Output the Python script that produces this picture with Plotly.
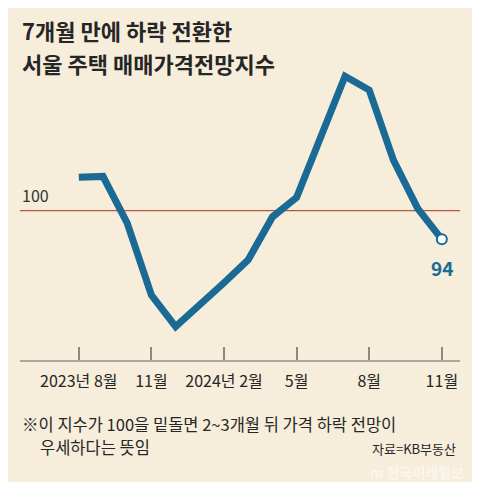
import plotly.graph_objects as go

# Seoul housing price outlook index, Aug 2023 - Nov 2024 (monthly)
months = ["2023-08", "2023-09", "2023-10", "2023-11", "2023-12", "2024-01",
          "2024-02", "2024-03", "2024-04", "2024-05", "2024-06", "2024-07",
          "2024-08", "2024-09", "2024-10", "2024-11"]
index_values = [107, 107.2, 97.4, 82.3, 75.7, 80.2, 84.9, 89.7, 98.7, 102.8,
                115.2, 128.2, 125.3, 110.6, 100.5, 94]
tick_pos = [0, 3, 6, 9, 12, 15]
tick_labels = ["2023년 8월", "11월", "2024년 2월", "5월", "8월", "11월"]

bg = "#F6EDDA"
blue = "#1B6A96"
font = "Noto Sans CJK KR"

x = list(range(len(months)))

fig = go.Figure()

fig.add_trace(go.Scatter(
    x=x, y=index_values,
    mode="lines",
    line=dict(color=blue, width=7),
    hoverinfo="skip"
))

# last point marker
fig.add_trace(go.Scatter(
    x=[x[-1]], y=[index_values[-1]],
    mode="markers",
    marker=dict(size=10, color="white", line=dict(color=blue, width=2)),
    hoverinfo="skip"
))

# reference line at 100
fig.add_shape(type="line", xref="paper", x0=0, x1=1, yref="y", y0=100, y1=100,
              line=dict(color="#B9583F", width=1.2), layer="below")
fig.add_annotation(xref="paper", x=0, y=100, yshift=2, text="100",
                   showarrow=False, xanchor="left", yanchor="bottom",
                   font=dict(size=16, color="#333333", family=font))

fig.add_annotation(x=x[-1], y=index_values[-1], yshift=-28, text="<b>94</b>",
                   showarrow=False, xanchor="center", yanchor="middle",
                   font=dict(size=19, color=blue, family=font))

# title
fig.add_annotation(xref="paper", yref="paper", x=0, y=1.0, yshift=30,
                   text="<b>7개월 만에 하락 전환한</b>",
                   showarrow=False, xanchor="left", yanchor="middle",
                   font=dict(size=22, color="#262626", family=font))
fig.add_annotation(xref="paper", yref="paper", x=0, y=1.0, yshift=-3,
                   text="<b>서울 주택 매매가격전망지수</b>",
                   showarrow=False, xanchor="left", yanchor="middle",
                   font=dict(size=22, color="#262626", family=font))

# footnote
fig.add_annotation(xref="paper", yref="paper", x=0, y=0, yshift=-64, xshift=0,
                   text="※이 지수가 100을 밑돌면 2~3개월 뒤 가격 하락 전망이",
                   showarrow=False, xanchor="left", yanchor="middle",
                   font=dict(size=16.5, color="#262626", family=font))
fig.add_annotation(xref="paper", yref="paper", x=0, y=0, yshift=-87, xshift=18,
                   text="우세하다는 뜻임",
                   showarrow=False, xanchor="left", yanchor="middle",
                   font=dict(size=16.5, color="#262626", family=font))
fig.add_annotation(xref="paper", yref="paper", x=1, y=0, yshift=-88, xshift=-2,
                   text="자료=KB부동산",
                   showarrow=False, xanchor="right", yanchor="middle",
                   font=dict(size=13, color="#262626", family=font))

# faint watermark
fig.add_annotation(xref="paper", yref="paper", x=1, y=0, yshift=-112, xshift=6,
                   text="<b>m 한국미래일보</b>",
                   showarrow=False, xanchor="right", yanchor="middle",
                   font=dict(size=14, color="rgba(255,255,255,0.55)", family=font))

fig.update_layout(
    width=480, height=482,
    margin=dict(l=12, r=28, t=52, b=130),
    paper_bgcolor=bg, plot_bgcolor=bg,
    showlegend=False,
    xaxis=dict(
        range=[-2.43, 15.75],
        tickvals=tick_pos, ticktext=tick_labels,
        ticks="inside", ticklen=13, tickwidth=1.5, tickcolor="#8A8A85",
        showline=True, linecolor="#A8A69E", linewidth=2,
        showgrid=False, zeroline=False,
        tickfont=dict(size=16, color="#262626", family=font),
        ticklabelstandoff=6,
    ),
    yaxis=dict(
        range=[68.7, 131.6],
        showgrid=False, zeroline=False, showticklabels=False,
    ),
)

fig.write_html("out.html")
